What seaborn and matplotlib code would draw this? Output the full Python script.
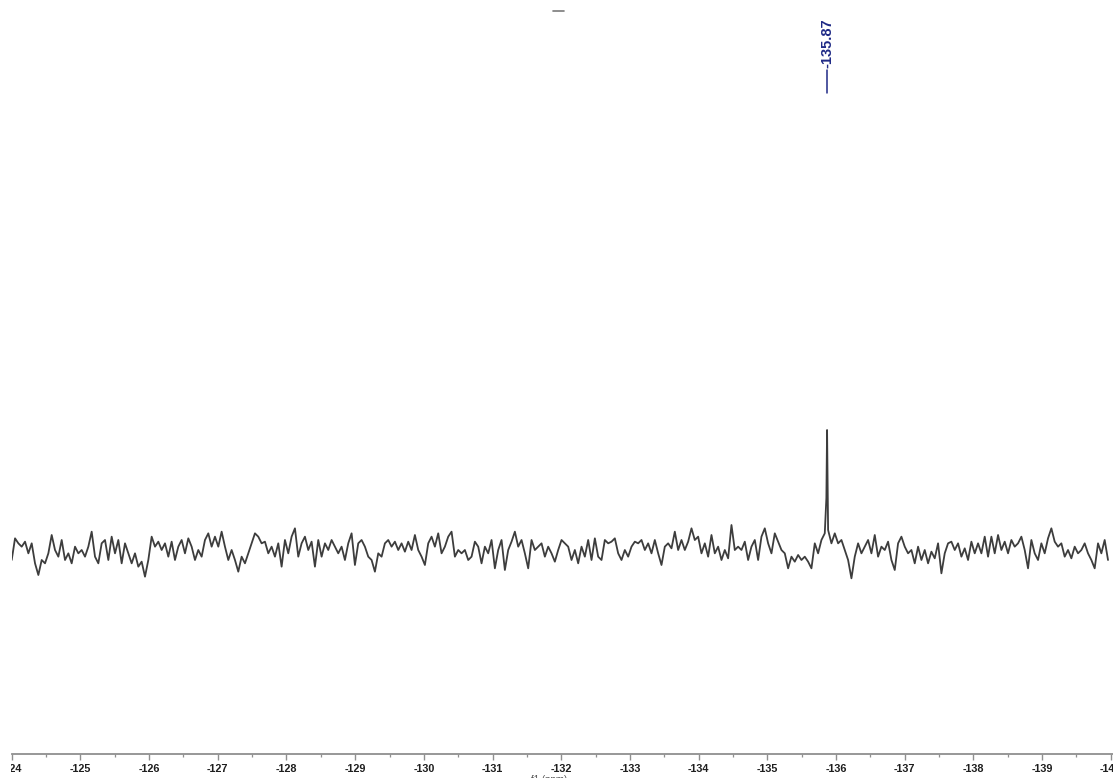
import numpy as np
import pandas as pd
import matplotlib
matplotlib.use("Agg")
import matplotlib.pyplot as plt
import matplotlib.transforms as mtransforms
from matplotlib.lines import Line2D
from matplotlib.ticker import MultipleLocator
import seaborn as sns

# 19F spectrum, evenly sampled baseline region (chemical shift in ppm)
PPM_START = -124.0
PPM_END = -139.96

intensity_a = [
    -36, 29, 14, 4, 19, -16, 14, -46, -81, -36,
    -46, -16, 39, -6, -26, 24, -36, -16, -46, 4,
    -16, -6, -26, 4, 49, -26, -46, 14, 24, -36,
    34, -16, 24, -46, 14, -16, -46, -16, -56, -41,
    -86, -36, 34, 4, 19, -6, 14, -26, 19, -36,
    4, 24, -16, 29, 4, -36, -6, -26, 24, 44,
    4, 34, 4, 49, 4, -36, -6, -36, -71, -26,
    -46, -16, 14, 44, 34, 14, 19, -16, 4, -26,
    14, -56, 24, -16, 34, 59, -26, 14, 34, -6,
    19, -56, 24, -26, 14, -6, 24, 4, -16, 4,
    -36, 14, 44, -51, 14, 24, 4, -26,
]
intensity_b = [
    -36, -71, -16, -26, 14, 24, 4, 19, -6, 14,
    -11, 19, -6, 39, -6, -26, -51, 14, 34, 4,
    44, -16, 4, 34, 49, -26, -6, -16, -6, -36,
    -26, 19, 4, -46, 4, -16, 24, -61, -6, 24,
    -66, -6, 19, 49, 4, 24, -16, -61, 24, -6,
    4, 14, -26, 4, -16, -41, -6, 24, 14, 4,
    -36, -6, -46, 4, -26, 24, -36, 29, -26, -36,
    24, 14, 19, 29, -16, -36, -6, -26, 4, 19,
    14, 24, -6, 14, -16, 24, -16, -51, 4, 14,
    -1, 49, -6, 24, -6, 19, 59, 24, 34, -16,
    14, -26, 39, -16, 4, -36, -6, -31, 69, -6,
    4,
]
intensity_c = [
    -6, 19, -36, 4, 24, -36, 34, 59, 14, -16,
    44, 19, -6, -16, -61, -26, -41, -21, -36, -26,
    -41, -61, 14, -16, 24, 44, 54, 14, 44, 14,
    24, -6, -36, -91, -26, 14, -16, 4, 24, -16,
    39, -26, 4, -6, 19, -36, -66, 14, 34, 4,
    -16, -6, -46, 4, -36, -6, -46, -11, -31, 14,
    -76, -16, 14, 19, -6, 14, -26, -1, -36, 19,
    -16, 14, -16, 34, -26, 34, -16, 39, -6, 19,
    -16, 24, 4, 14, 34, -6, -61, 24, -16, -36,
    14, -16, 29, 59, 19, 4, 14, -26, -6, -31,
    4, -16, -6, 14, -16, -36, -61, 14, -16, 24,
    -36,
]

# the single resolved resonance
peak_ppm = [-135.86, -135.87, -135.88]
peak_intensity = [150, 354, 150]
peak_label = "-135.87"

tick_values = list(range(-124, -141, -1))
tick_labels = [str(v) for v in tick_values]

# ---------------------------------------------------------------------------
baseline = np.array(intensity_a + intensity_b + intensity_c, dtype=float)
grid = np.linspace(PPM_START, PPM_END, len(baseline))
df = pd.DataFrame({
    "ppm": np.concatenate([grid, peak_ppm]),
    "intensity": np.concatenate([baseline, peak_intensity]),
}).sort_values("ppm")

sns.set_theme(style="white")
plt.rcParams["font.family"] = ["Liberation Sans", "DejaVu Sans"]
plt.rcParams["axes.unicode_minus"] = False

W, H = 1113, 778
fig = plt.figure(figsize=(W / 100, H / 100), dpi=100)
fig.patch.set_facecolor("white")
ax = fig.add_axes([11.7 / W, 24 / H, 1112.8 / W, 754 / H])
ax.set_facecolor("white")

sns.lineplot(data=df, x="ppm", y="intensity", ax=ax, color="#3d3d3d",
             linewidth=1.3, estimator=None, sort=True)

ax.set_xlim(-124.0, -140.2)
ax.set_ylim(-618, 1644)

for side in ("left", "right", "top"):
    ax.spines[side].set_visible(False)
ax.spines["bottom"].set_color("#8f8f8f")
ax.spines["bottom"].set_linewidth(1.3)

ax.set_xticks(tick_values)
ax.set_xticklabels(tick_labels)
ax.xaxis.set_minor_locator(MultipleLocator(0.5))
ax.tick_params(axis="x", which="major", bottom=True, length=4, width=1.0,
               color="#8f8f8f", pad=3.5, labelsize=7.8, labelcolor="#1e1e1e")
ax.tick_params(axis="x", which="minor", bottom=True, length=2.5, width=0.9,
               color="#8f8f8f")
for lbl in ax.get_xticklabels():
    lbl.set_fontweight("bold")

# the leftmost label is trimmed by the plotting frame's left margin
frame_box = mtransforms.Bbox.from_extents(11.0, 0.0, W, H)
first = ax.get_xticklabels()[0]
first.set_clip_on(True)
first.set_clip_box(mtransforms.TransformedBbox(frame_box, mtransforms.IdentityTransform()))

ax.set_yticks([])
ax.set_xlabel("")
ax.set_ylabel("")

# peak annotation: connector and rotated shift value
navy = "#1f2a86"
trans = mtransforms.blended_transform_factory(ax.transData, ax.transAxes)
x_lab = peak_ppm[1]
ax.plot([x_lab, x_lab], [(754 - 93) / 754, (754 - 70) / 754], transform=trans,
        color=navy, linewidth=1.1, clip_on=False)
ax.text(x_lab, (754 - 68) / 754, peak_label, transform=trans, rotation=90,
        ha="center", va="bottom", fontsize=10.5, fontweight="bold",
        color=navy)

# small marker near the top edge
fig.add_artist(Line2D([553 / W, 564 / W], [1 - 11 / H, 1 - 11 / H],
                      color="#7a7a7a", linewidth=1.2))

# axis title sits at the very bottom edge
fig.text(549 / W, 3 / H, "f1 (ppm)", ha="center", va="top", fontsize=7,
         color="#555555")

fig.savefig("out.png", dpi=100, facecolor="white")
